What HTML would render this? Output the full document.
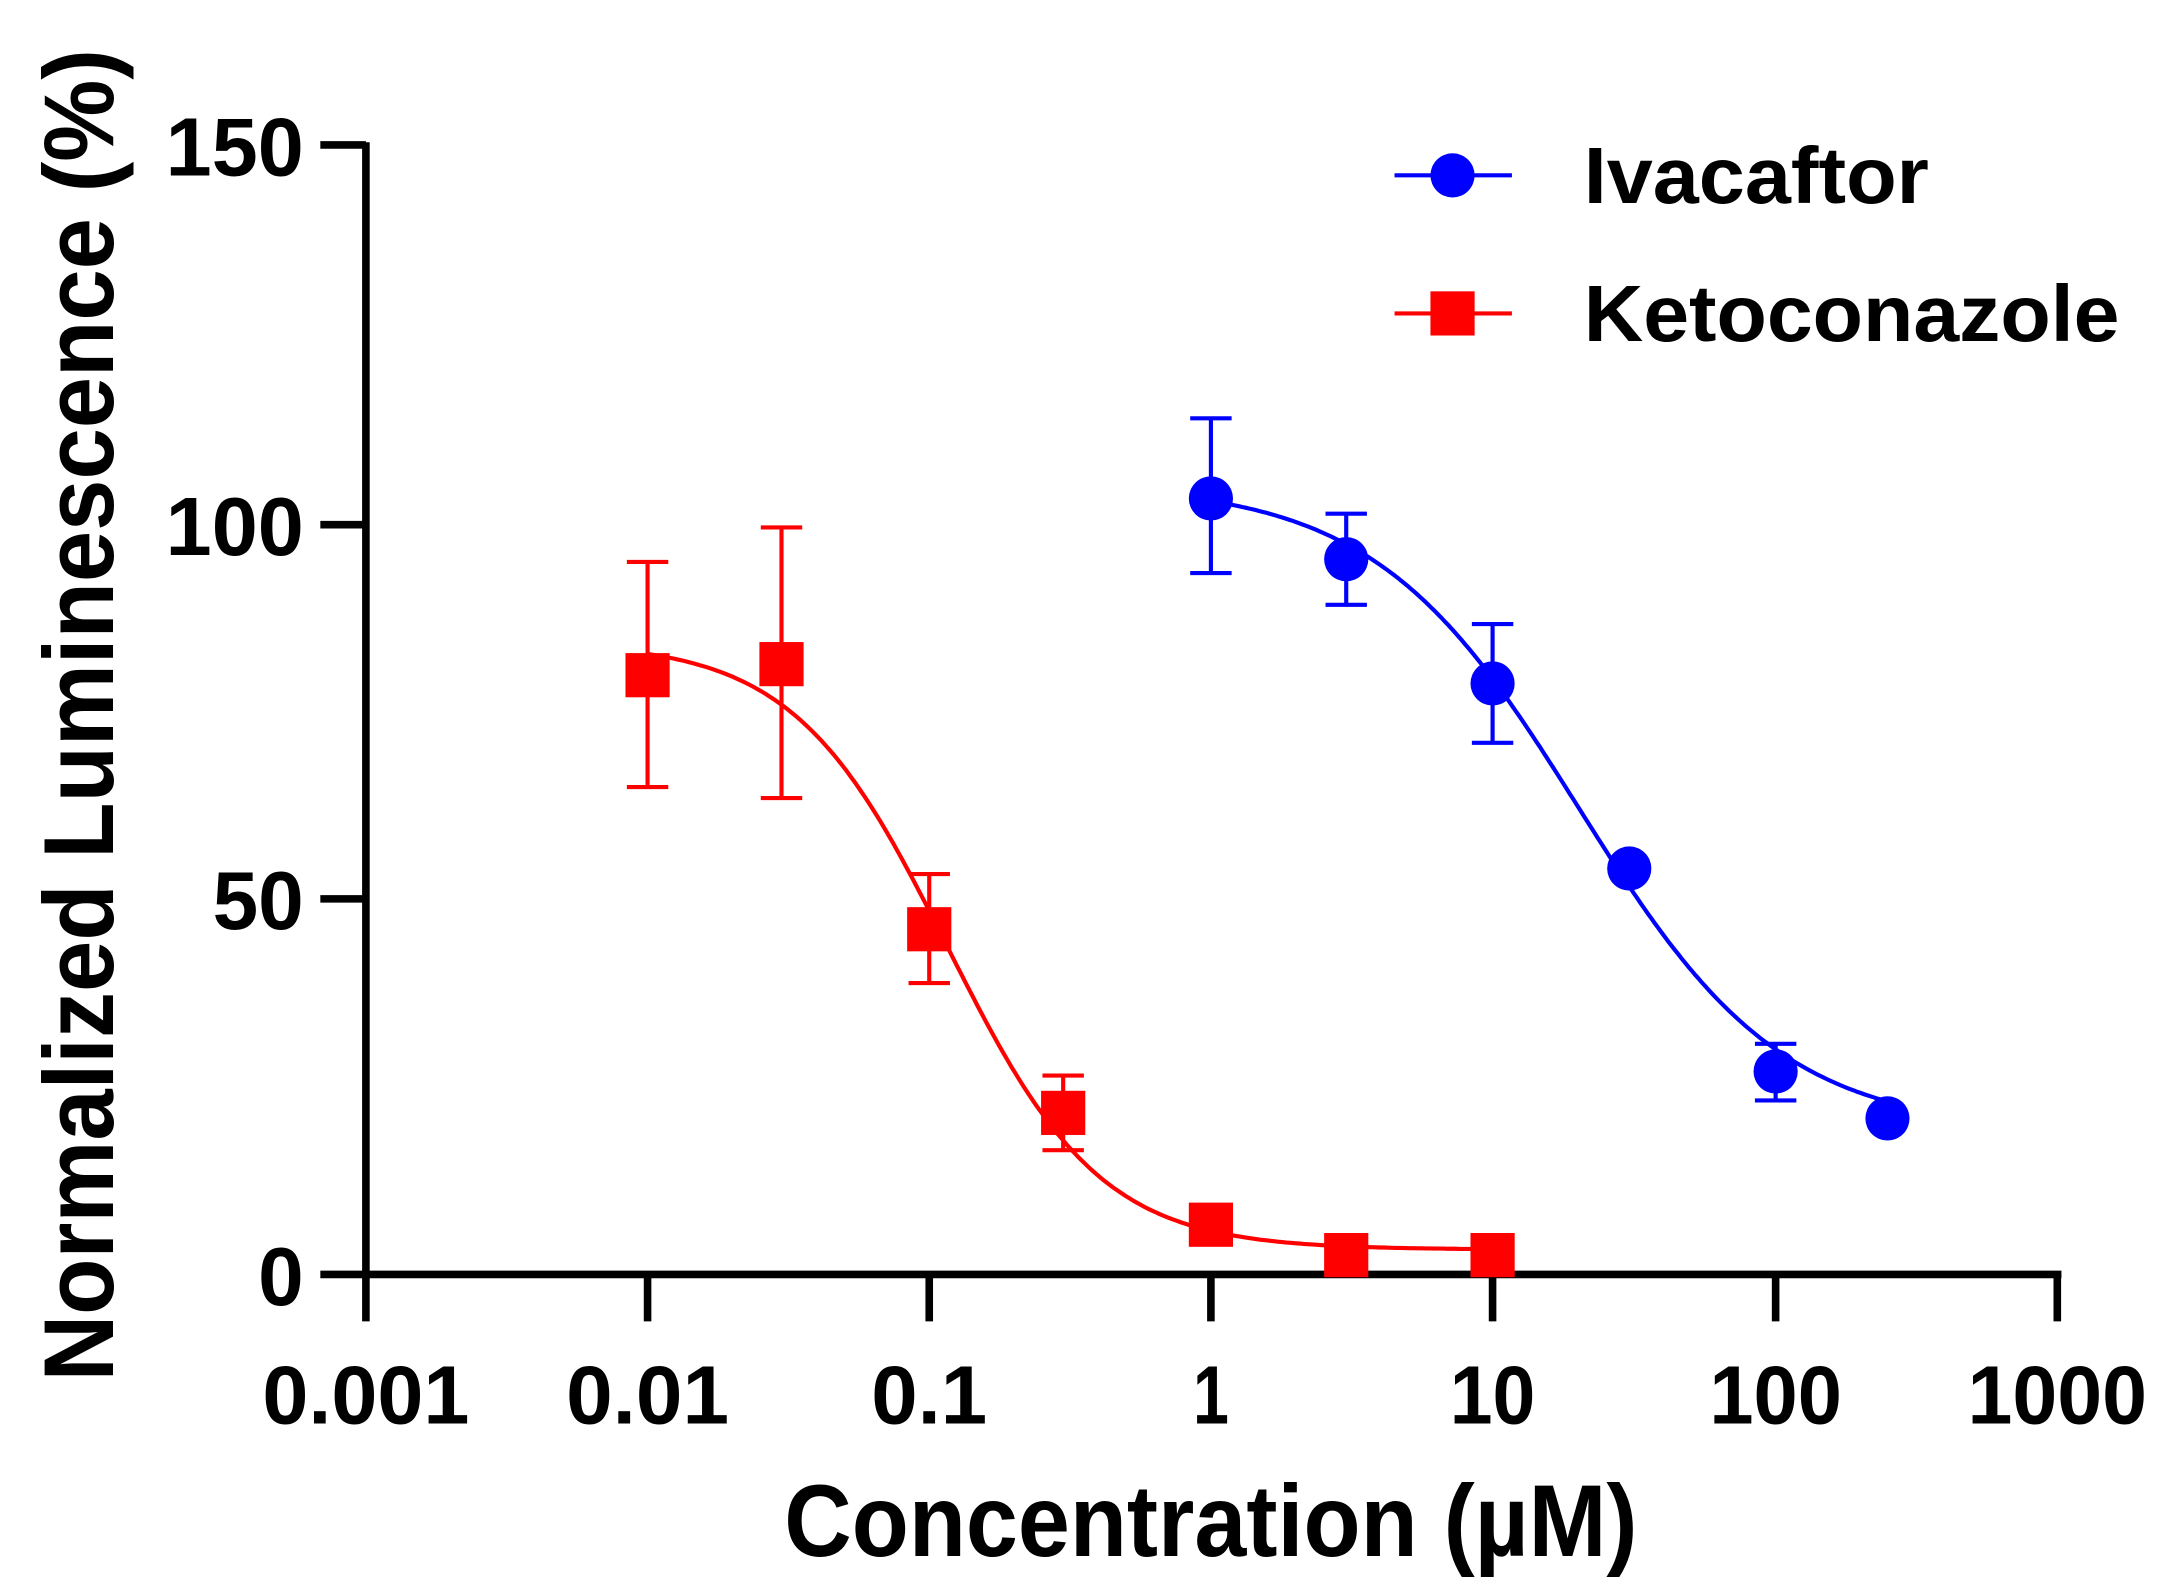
<!DOCTYPE html>
<html><head><meta charset="utf-8"><style>
html,body{margin:0;padding:0;background:#fff;}
svg{display:block;}
text{font-family:"Liberation Sans",Arial,sans-serif;font-weight:bold;fill:#000;}
</style></head><body>
<svg id="s" width="2165" height="1592" viewBox="0 0 1568 1153" preserveAspectRatio="none" xmlns="http://www.w3.org/2000/svg">
<g stroke="#000" stroke-width="5.5" fill="none">
<line x1="265" y1="103" x2="265" y2="926"/>
<line x1="263" y1="923" x2="1493" y2="923"/>
<line x1="232" y1="105" x2="265" y2="105"/>
<line x1="232" y1="380" x2="265" y2="380"/>
<line x1="232" y1="651" x2="265" y2="651"/>
<line x1="232" y1="923" x2="265" y2="923"/>
<line x1="265" y1="923" x2="265" y2="957"/>
<line x1="469" y1="923" x2="469" y2="957"/>
<line x1="673" y1="923" x2="673" y2="957"/>
<line x1="877" y1="923" x2="877" y2="957"/>
<line x1="1081" y1="923" x2="1081" y2="957"/>
<line x1="1286" y1="923" x2="1286" y2="957"/>
<line x1="1490" y1="923" x2="1490" y2="957"/>
</g>
<g font-size="60" text-anchor="end">
<text x="220" y="127" textLength="100" lengthAdjust="spacingAndGlyphs">150</text>
<text x="220" y="402" textLength="100" lengthAdjust="spacingAndGlyphs">100</text>
<text x="220" y="673" textLength="66" lengthAdjust="spacingAndGlyphs">50</text>
<text x="220" y="945" textLength="33" lengthAdjust="spacingAndGlyphs">0</text>
</g>
<g font-size="60" text-anchor="middle">
<text x="265" y="1031" textLength="150" lengthAdjust="spacingAndGlyphs">0.001</text>
<text x="469" y="1031" textLength="118" lengthAdjust="spacingAndGlyphs">0.01</text>
<text x="673" y="1031" textLength="84" lengthAdjust="spacingAndGlyphs">0.1</text>
<text x="877" y="1031" textLength="26" lengthAdjust="spacingAndGlyphs">1</text>
<text x="1081" y="1031" textLength="62" lengthAdjust="spacingAndGlyphs">10</text>
<text x="1286" y="1031" textLength="96" lengthAdjust="spacingAndGlyphs">100</text>
<text x="1490" y="1031" textLength="130" lengthAdjust="spacingAndGlyphs">1000</text>
</g>
<text x="877" y="1127" font-size="74" text-anchor="middle" textLength="618" lengthAdjust="spacingAndGlyphs">Concentration (µM)</text>
<text transform="translate(82,518) rotate(-90)" font-size="72" text-anchor="middle" textLength="965" lengthAdjust="spacingAndGlyphs">Normalized Luminescence (%)</text>
<g id="plot"></g>
<line x1="1010" y1="127" x2="1095" y2="127" stroke="#0000ff" stroke-width="3"/>
<circle cx="1052" cy="127" r="16" fill="#0000ff"/>
<text x="1147" y="147" font-size="58" textLength="250" lengthAdjust="spacingAndGlyphs">Ivacaftor</text>
<line x1="1010" y1="227" x2="1095" y2="227" stroke="#ff0000" stroke-width="3"/>
<rect x="1036" y="211" width="32" height="32" fill="#ff0000"/>
<text x="1147" y="247" font-size="58" textLength="388" lengthAdjust="spacingAndGlyphs">Ketoconazole</text>
</svg>
<script>
var NS="http://www.w3.org/2000/svg",g=document.getElementById("plot");
function X(c){return 265+(Math.log10(c)+3)*204.2}
function Y(v){return 923-v*5.453}
function el(t,a){var e=document.createElementNS(NS,t);for(var k in a)e.setAttribute(k,a[k]);g.appendChild(e);return e}
function curve(top,bot,ic,h,a,b,col){var d="";for(var i=0;i<=200;i++){var lc=Math.log10(a)+(Math.log10(b)-Math.log10(a))*i/200,c=Math.pow(10,lc);var v=bot+(top-bot)/(1+Math.pow(c/ic,h));d+=(i?"L":"M")+X(c).toFixed(1)+","+Y(v).toFixed(1)}el("path",{d:d,fill:"none",stroke:col,"stroke-width":3})}
curve(105,19,20,1.2,1,250,"#0000ff");
curve(84,3.3,0.115,1.6,0.01,10,"#ff0000");
function err(x,y1,y2,col){el("line",{x1:x,y1:y1,x2:x,y2:y2,stroke:col,"stroke-width":3});el("line",{x1:x-15,y1:y1,x2:x+15,y2:y1,stroke:col,"stroke-width":3});el("line",{x1:x-15,y1:y2,x2:x+15,y2:y2,stroke:col,"stroke-width":3})}
var iv=[[877,361,303,415],[975,405,372,438],[1081,495,452,538],[1180,629],[1286,776,756,797],[1367,810]];
var kt=[[469,489,407,570],[566,481,382,578],[673,673,633,712],[770,806,779,833],[877,887],[975,909],[1081,909]];
iv.forEach(function(p){if(p[2])err(p[0],p[2],p[3],"#0000ff");el("circle",{cx:p[0],cy:p[1],r:16,fill:"#0000ff"})});
kt.forEach(function(p){if(p[2])err(p[0],p[2],p[3],"#ff0000");el("rect",{x:p[0]-16,y:p[1]-16,width:32,height:32,fill:"#ff0000"})});
</script>
</body></html>
